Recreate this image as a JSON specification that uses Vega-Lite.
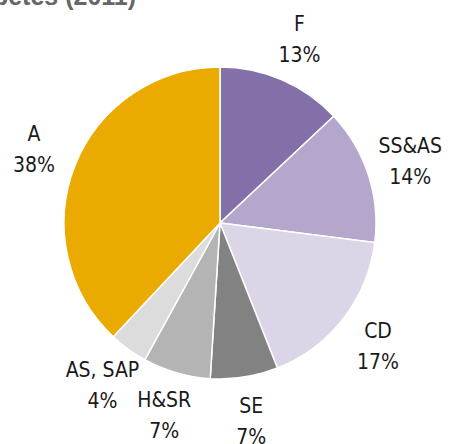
{
  "$schema": "https://vega.github.io/schema/vega-lite/v6.json",
  "autosize": "none",
  "width": 440,
  "height": 442,
  "padding": {"left": 0, "top": 2, "right": 18, "bottom": 0},
  "background": "white",
  "title": {
    "text": "Diabetes (2011)",
    "anchor": "start",
    "orient": "top",
    "font": "Liberation Sans",
    "fontSize": 25,
    "fontWeight": "bold",
    "color": "#666666",
    "dx": -46,
    "dy": 12
  },
  "data": {
    "values": [
      {"order": 1, "cat": "F", "label": "F|13%", "value": 13},
      {"order": 2, "cat": "SS&AS", "label": "SS&AS|14%", "value": 14},
      {"order": 3, "cat": "CD", "label": "CD|17%", "value": 17},
      {"order": 4, "cat": "SE", "label": "SE|7%", "value": 7},
      {"order": 5, "cat": "H&SR", "label": "H&SR|7%", "value": 7},
      {"order": 6, "cat": "AS, SAP", "label": "AS, SAP|4%", "value": 4},
      {"order": 7, "cat": "A", "label": "A|38%", "value": 38}
    ]
  },
  "encoding": {
    "theta": {"field": "value", "type": "quantitative", "stack": true},
    "order": {"field": "order", "type": "quantitative"},
    "color": {
      "field": "cat",
      "type": "nominal",
      "legend": null,
      "scale": {
        "domain": ["F", "SS&AS", "CD", "SE", "H&SR", "AS, SAP", "A"],
        "range": ["#8470a8", "#b4a7cb", "#dcd5e8", "#828282", "#b4b4b4", "#dcdcdc", "#ebaa00"]
      }
    }
  },
  "layer": [
    {
      "mark": {"type": "arc", "outerRadius": 156, "stroke": "white", "strokeWidth": 1.5}
    },
    {
      "mark": {
        "type": "text",
        "radius": 200,
        "font": "DejaVu Sans Condensed, Roboto Condensed, Roboto, sans-serif",
        "fontSize": 21,
        "lineBreak": "|",
        "lineHeight": 31,
        "align": "center",
        "baseline": "middle",
        "dy": -14
      },
      "encoding": {
        "text": {"field": "label", "type": "nominal"},
        "color": {"value": "#1a1a1a"}
      }
    }
  ],
  "config": {"view": {"stroke": null}}
}
